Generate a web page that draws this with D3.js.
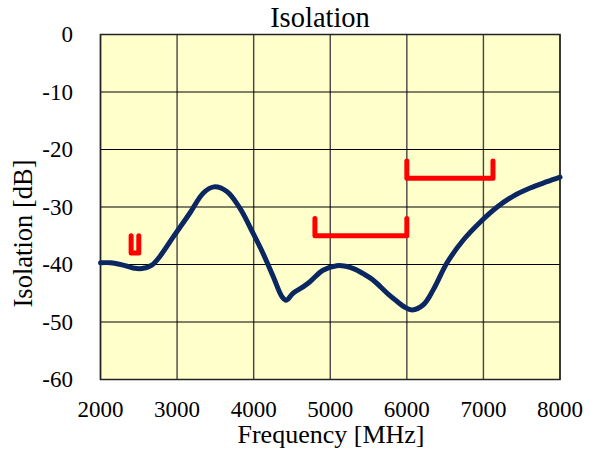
<!DOCTYPE html>
<html><head><meta charset="utf-8">
<script src="https://cdn.jsdelivr.net/npm/d3@7"></script>
<style>
body{margin:0;background:#fff}
svg{display:block}
svg text{font-family:"Liberation Serif",Tinos,"Times New Roman",Times,serif}
</style>
</head><body>
<svg id="c" width="590" height="455" font-family="Liberation Serif, Tinos, Times New Roman, Times, serif"></svg>
<script>
const freq = [2000,2125,2295,2425,2540,2670,2775,2950,3170,3340,3480,3650,3820,3990,4120,4255,4370,4425,4515,4645,4735,4905,5085,5200,5320,5430,5550,5650,5760,5870,5970,6070,6215,6345,6525,6740,6960,7180,7390,7610,7830,8000];
const isolation = [-39.7,-39.7,-40.1,-40.6,-40.7,-40.1,-38.6,-35.2,-31,-27.6,-26.5,-27.3,-30.2,-34.5,-38,-42.1,-45.6,-46.2,-45,-43.9,-43,-41,-40.2,-40.3,-40.8,-41.6,-42.6,-43.8,-45.2,-46.4,-47.4,-47.9,-47,-44.4,-39.7,-35.7,-32.6,-30,-28.1,-26.7,-25.6,-24.8];
const specStart = [2400,4800,6000];
const specEnd = [2500,6000,7125];
const specLevel = [-38,-35,-25];
const specTick = 3;
const xTicks = [2000,3000,4000,5000,6000,7000,8000];
const yTicks = [0,-10,-20,-30,-40,-50,-60];

const svg = d3.select('#c');
const L=100.5,R=560,T=34.5,B=379.5;
const x = d3.scaleLinear().domain([2000,8000]).range([L,R]);
const y = d3.scaleLinear().domain([-60,0]).range([B,T]);

svg.append('rect').attr('x',L).attr('y',T).attr('width',R-L).attr('height',B-T).attr('fill','#ffffcc');
svg.append('g').selectAll('line').data(xTicks).join('line')
  .attr('x1',d=>x(d)).attr('x2',d=>x(d)).attr('y1',T).attr('y2',B)
  .attr('stroke','#444').attr('stroke-width',1.4);
svg.append('g').selectAll('line').data(yTicks).join('line')
  .attr('x1',L).attr('x2',R).attr('y1',d=>y(d)).attr('y2',d=>y(d))
  .attr('stroke','#000').attr('stroke-width',1.2);
svg.append('rect').attr('x',L).attr('y',T).attr('width',R-L).attr('height',B-T).attr('fill','none').attr('stroke','#222').attr('stroke-width',1.5);

const specs = specStart.map((s,i)=>({s,e:specEnd[i],v:specLevel[i]}));
svg.append('g').selectAll('path').data(specs).join('path')
  .attr('d',d=>d3.line()([[x(d.s),y(d.v+specTick)],[x(d.s),y(d.v)],[x(d.e),y(d.v)],[x(d.e),y(d.v+specTick)]]))
  .attr('fill','none').attr('stroke','#ff0000').attr('stroke-width',5).attr('stroke-linecap','round').attr('stroke-linejoin','round');

const pts = freq.map((f,i)=>[f,isolation[i]]);
svg.append('path').datum(pts)
  .attr('d',d3.line().x(d=>x(d[0])).y(d=>y(d[1])).curve(d3.curveCatmullRom.alpha(0.5)))
  .attr('fill','none').attr('stroke','#0b2761').attr('stroke-width',5).attr('stroke-linejoin','round').attr('stroke-linecap','round');

svg.append('g').selectAll('text').data(xTicks).join('text')
  .attr('x',d=>x(d)).attr('y',417).attr('text-anchor','middle')
  .attr('font-size',23).text(d=>d);
svg.append('g').selectAll('text').data(yTicks).join('text')
  .attr('x',73).attr('y',d=>y(d)+7.5).attr('text-anchor','end')
  .attr('font-size',23).text(d=>d);
svg.append('text').attr('x',320).attr('y',27).attr('text-anchor','middle')
  .attr('font-size',28.5).text('Isolation');
svg.append('text').attr('x',331).attr('y',443).attr('text-anchor','middle')
  .attr('font-size',26).text('Frequency [MHz]');
svg.append('text').attr('transform','translate(32,233.5) rotate(-90)').attr('text-anchor','middle')
  .attr('font-size',26.5).text('Isolation [dB]');
</script>
</body></html>
